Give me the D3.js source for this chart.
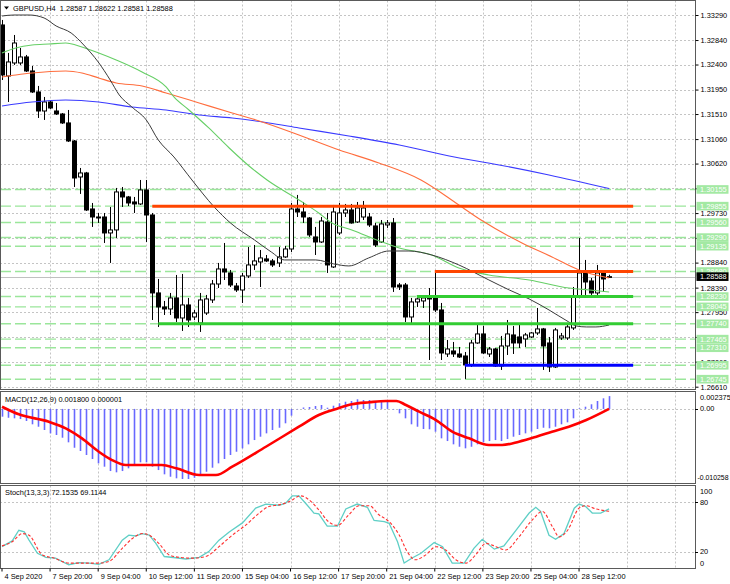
<!DOCTYPE html>
<html><head><meta charset="utf-8">
<script src="https://cdn.jsdelivr.net/npm/d3@7"></script>
<style>
html,body{margin:0;padding:0;background:#fff;}
svg{display:block;font-family:"Liberation Sans",Arial,sans-serif;}
</style></head><body>
<svg id="c" width="730" height="584"></svg>
<script>
// ---------------- DATA ----------------
const symbolTitle = "GBPUSD,H4  1.28587 1.28622 1.28581 1.28588";
const macdTitle = "MACD(12,26,9) 0.001800 0.000001";
const stochTitle = "Stoch(13,3,3) 72.1535 69.1144";

const opens = [1.33111,1.32194,1.32428,1.32428,1.32536,1.32284,1.31907,1.31565,1.31727,1.31565,
1.31511,1.31350,1.31026,1.30379,1.30451,1.29804,1.29660,1.29660,1.29373,1.29427,
1.30110,1.30020,1.29930,1.29894,1.30146,1.29696,1.28295,1.28043,1.28007,1.28205,
1.27845,1.28079,1.27863,1.27755,1.27935,1.28169,1.28456,1.28726,1.28654,1.28420,
1.28348,1.28600,1.28798,1.28852,1.28906,1.28870,1.28834,1.28942,1.29085,1.29804,
1.29750,1.29642,1.29301,1.29211,1.29570,1.28762,1.29373,1.29732,1.29786,1.29570,
1.29660,1.29660,1.29499,1.29211,1.29517,1.29553,1.28438,1.28438,1.27863,1.28133,
1.28151,1.28223,1.28205,1.27989,1.27198,1.27252,1.27198,1.27162,1.27001,1.27396,
1.27558,1.27198,1.27288,1.26983,1.27342,1.27540,1.27504,1.27468,1.27504,1.27576,
1.27648,1.27396,1.26965,1.27486,1.27486,1.27666,1.28223,1.28654,1.28510,1.28295,
1.28654,1.28587];
const highs = [1.33201,1.32608,1.32931,1.32697,1.32572,1.32374,1.32015,1.31817,1.31745,1.31709,
1.31529,1.31583,1.31044,1.30541,1.30470,1.29912,1.29732,1.29732,1.29840,1.30182,
1.30199,1.30038,1.30020,1.30325,1.30325,1.29732,1.28546,1.28151,1.28295,1.28618,
1.28636,1.28205,1.27989,1.28295,1.28259,1.28528,1.28834,1.29193,1.28708,1.28474,
1.28654,1.29121,1.29157,1.29067,1.28977,1.28906,1.29121,1.29139,1.29912,1.30056,
1.29930,1.29660,1.29481,1.29660,1.29732,1.29876,1.29912,1.29894,1.29894,1.29930,
1.29948,1.29732,1.29553,1.29606,1.29606,1.29642,1.28474,1.28474,1.28205,1.28223,
1.28241,1.28384,1.28672,1.28115,1.27450,1.27414,1.27324,1.27234,1.27450,1.27719,
1.27702,1.27324,1.27306,1.27522,1.27809,1.27702,1.27719,1.27576,1.27594,1.28025,
1.27666,1.27504,1.27666,1.27576,1.27719,1.28402,1.29283,1.28888,1.28564,1.28798,
1.28672,1.28622];
const lows = [1.32122,1.31727,1.32392,1.32392,1.32266,1.31889,1.31439,1.31404,1.31601,1.31493,
1.31332,1.31008,1.30199,1.30074,1.29768,1.29481,1.29553,1.29193,1.28834,1.29283,
1.29840,1.29858,1.29732,1.29876,1.29211,1.27809,1.27684,1.27899,1.27899,1.27773,
1.27612,1.27684,1.27809,1.27594,1.27899,1.28115,1.28384,1.28528,1.28402,1.28313,
1.28115,1.28564,1.28708,1.28402,1.28852,1.28762,1.28762,1.28924,1.29031,1.29660,
1.29553,1.29301,1.28977,1.29193,1.28654,1.28744,1.29337,1.29660,1.29540,1.29553,
1.29606,1.29481,1.29121,1.29193,1.29463,1.28313,1.28348,1.27773,1.27755,1.28043,
1.28025,1.27090,1.27953,1.27090,1.27144,1.27144,1.27126,1.26749,1.26965,1.27380,
1.27198,1.27144,1.26965,1.26911,1.27180,1.27198,1.27306,1.27324,1.27486,1.27540,
1.26911,1.26875,1.26947,1.27450,1.27450,1.27630,1.28200,1.28259,1.28259,1.28259,
1.28313,1.28581];
const closes = [1.32212,1.32446,1.32787,1.32536,1.32284,1.31907,1.31565,1.31727,1.31619,1.31511,
1.31350,1.31026,1.30361,1.30451,1.29786,1.29660,1.29642,1.29373,1.29427,1.30110,
1.30020,1.29912,1.29894,1.30146,1.29696,1.28295,1.28043,1.28007,1.28205,1.27845,
1.28079,1.27809,1.27935,1.28169,1.28187,1.28456,1.28726,1.28672,1.28438,1.28348,
1.28600,1.28798,1.28870,1.28924,1.28870,1.28798,1.28942,1.29085,1.29804,1.29750,
1.29660,1.29337,1.29211,1.29588,1.28798,1.29750,1.29732,1.29786,1.29553,1.29822,
1.29822,1.29517,1.29157,1.29535,1.29553,1.28402,1.28402,1.27863,1.28133,1.28187,
1.28205,1.28187,1.27989,1.27216,1.27288,1.27198,1.27144,1.27001,1.27396,1.27558,
1.27216,1.27288,1.26983,1.27342,1.27558,1.27396,1.27396,1.27540,1.27576,1.27648,
1.27342,1.26965,1.27630,1.27522,1.27684,1.28223,1.28654,1.28492,1.28295,1.28654,
1.28546,1.28588];

// moving averages: bar index / price
const maBlackIdx = [0,2,4.5,7,9,11.5,13.6,16,18,19.5,21.6,24,26,28.6,31.6,35.3,38,42,44.8,47,49.4,52.2,55.2,57.7,61,64.4,67.7,71.5,76,81,84.4,87.7,91,94.3,95.5,97.2,98.8,101];
const maBlackVal = [1.33272,1.33290,1.33290,1.33237,1.33093,1.32967,1.32751,1.32446,1.32122,1.31853,1.31637,1.31404,1.31044,1.30739,1.30325,1.29840,1.29553,1.29247,1.29031,1.28888,1.28888,1.28888,1.28816,1.28780,1.28924,1.29049,1.29049,1.28977,1.28798,1.28528,1.28348,1.28187,1.27989,1.27773,1.27702,1.27684,1.27684,1.27719];
const maGreenIdx = [0,2.3,5,7.8,10.6,13.3,16.1,19,23.3,27.3,28.6,31.1,34.4,37.8,41.1,44.1,49.4,52.7,54.9,58.2,63.2,66.1,71.5,76,81,87.7,94.3,97.7,101];
const maGreenVal = [1.32608,1.32697,1.32751,1.32769,1.32787,1.32715,1.32608,1.32482,1.32266,1.31997,1.31817,1.31583,1.31260,1.30900,1.30577,1.30325,1.29966,1.29732,1.29553,1.29427,1.29211,1.29103,1.28977,1.28744,1.28618,1.28528,1.28384,1.28348,1.28313];
const maOrangeIdx = [0,2.3,5,10.6,13.3,16.1,19,23.3,27.3,32.8,38.3,42.8,49.4,56.1,62.7,69.7,76,79.7,86.5,91.5,96,101];
const maOrangeVal = [1.32176,1.32212,1.32248,1.32284,1.32248,1.32158,1.32068,1.32015,1.31889,1.31709,1.31529,1.31386,1.31134,1.30864,1.30631,1.30325,1.29876,1.29606,1.29193,1.28942,1.28708,1.28564];
const maBlueIdx = [0,5,10.6,16.1,21.6,27.3,32.8,38.3,44.4,49.4,57.7,66.1,74.4,82.7,91,101];
const maBlueVal = [1.31655,1.31727,1.31763,1.31727,1.31637,1.31583,1.31493,1.31439,1.31350,1.31260,1.31116,1.30954,1.30757,1.30595,1.30415,1.30170];

// horizontal dashed levels
const hlineLevels = [1.30155,1.29855,1.29560,1.29290,1.29135,1.28680,1.28230,1.28045,1.27740,1.27465,1.27310,1.26995,1.26745];
const currentPrice = 1.28588;
// thick drawn level segments
const segPrice = [1.29855,1.28680,1.28230,1.27740,1.26995];
const segStart = [25,72,69,26,77];
const segEnd   = [105,105,105,105,105];
const segKind  = ["resist","resist","support","support","low"];

// price axis
const mainTicks = [1.33290,1.32840,1.32400,1.31950,1.31510,1.31060,1.30620,1.30175,1.29730,1.29285,1.28840,1.28390,1.27950,1.27505,1.27060,1.26610];
const mainTickLabels = ["1.33290","1.32840","1.32400","1.31950","1.31510","1.31060","1.30620","","1.29730","","1.28840","1.28390","1.27950","","1.27060","1.26610"];

// MACD
const macdHist = [-0.00109,-0.00124,-0.00132,-0.00142,-0.00170,-0.00216,-0.00250,-0.00296,-0.00343,-0.00366,
-0.00404,-0.00469,-0.00545,-0.00591,-0.00647,-0.00703,-0.00764,-0.00811,-0.00872,-0.00890,
-0.00872,-0.00834,-0.00787,-0.00750,-0.00750,-0.00811,-0.00858,-0.00918,-0.00952,-0.00974,
-0.00984,-0.00984,-0.00966,-0.00928,-0.00882,-0.00825,-0.00764,-0.00703,-0.00647,-0.00601,
-0.00553,-0.00497,-0.00437,-0.00390,-0.00343,-0.00296,-0.00264,-0.00202,-0.00095,-0.00005,
0.00020,0.00027,0.00041,0.00055,0.00017,0.00045,0.00079,0.00101,0.00111,0.00135,
0.00125,0.00125,0.00111,0.00111,0.00101,-0.00008,-0.00062,-0.00132,-0.00216,-0.00250,
-0.00282,-0.00286,-0.00320,-0.00413,-0.00451,-0.00497,-0.00531,-0.00553,-0.00531,-0.00497,
-0.00469,-0.00451,-0.00437,-0.00451,-0.00423,-0.00390,-0.00366,-0.00343,-0.00320,-0.00282,
-0.00264,-0.00272,-0.00250,-0.00216,-0.00188,-0.00132,0.00010,0.00031,0.00065,0.00111,
0.00149,0.00180];
const sigIdx = [0,2.8,7.8,10.6,13.3,16.1,18.3,20.6,26.6,29,32.8,35.6,38.3,43.9,49.4,52.7,55.6,58.2,61.1,63.9,65.6,67.2,69.4,72.2,74.9,77.7,81,83.2,86,88.9,91.5,94.3,97.2,101];
const sigVal = [0.00031,-0.00076,-0.00180,-0.00272,-0.00413,-0.00601,-0.00718,-0.00788,-0.00788,-0.00834,-0.00928,-0.00928,-0.00811,-0.00531,-0.00250,-0.00086,-0.00001,0.00065,0.00093,0.00111,0.00111,0.00055,-0.00039,-0.00156,-0.00320,-0.00413,-0.00507,-0.00507,-0.00460,-0.00390,-0.00320,-0.00250,-0.00156,0.000001];
const macdMax = 0.002375, macdMin = -0.010258;
const macdLabels = ["0.002375","0.00","-0.010258"];

// Stochastic
const stochKIdx = [0,1.7,2.8,3.7,4.5,5.9,7.3,8.9,11.1,12.8,14.5,16.1,17.8,20,21.1,22.2,23.3,24.5,25.6,27,28.9,30.6,32.8,34.4,36.1,37.8,40,42.2,43.9,46.1,47.2,48.3,49.4,50.5,51.9,52.7,54.1,55.8,57.2,59.1,60.8,61.9,63.6,64.4,65.8,66.9,68.3,69.7,71.9,73.3,74.9,76.9,78.5,79.9,81.9,83.5,85.5,87.7,88.8,89.6,91,92.1,93.5,95.2,96,97.1,98.2,99.6,101];
const stochKVal = [26,33,46,44,34,18,13,12,4,6.5,6,4.5,10,34,40,39,42,40,30,14,12.5,11,13,20,34,44,55,73,78,76.5,79,88,88,79,67,66,51,51,72,78,74,58,56.5,54.5,32,6,12.5,18,31,26,6,6,24,35,23,27,46,67,74,69,40,35,42,73,78,75,67,67,72.15];
const stochDIdx = [0,1.7,3.4,4.5,6.7,8.7,11.1,13.4,16.1,17.8,20,21.7,23.3,24.5,26.1,27.8,29.5,31.7,33.9,36.1,38.3,40.5,42.8,44.4,46.1,47.8,49.7,51.1,52.7,54.4,55.8,57.7,59.4,61.1,62.7,64.4,66.1,67.4,68.8,70.5,72.2,73.8,75.5,77.2,78.8,80.5,82.2,83.8,86,88.2,89.9,91.6,92.7,94.1,96,97.1,98.8,101];
const stochDVal = [27,32,42,40,16,12,6,6,6,8,24,36,42,40,30,16,13,12,14,26,40,52,67,75,77,81,88,83,71,56,52,65,76,76,65,56.5,40,20,10,16,26,22,10,6,16,30,26,22,38,58.5,69,50,38,46,73,76,72,69.11];
const stochLevels = [80,20];
const stochLabels = [100,80,20,0];

// time axis
const timeTickBars = [0,8,16,24,32,40,48,56,64,72,80,88,96];
const timeTickLabels = ["4 Sep 2020","7 Sep 20:00","9 Sep 04:00","10 Sep 12:00","11 Sep 20:00","15 Sep 04:00","16 Sep 12:00","17 Sep 20:00","21 Sep 04:00","22 Sep 12:00","23 Sep 20:00","25 Sep 04:00","28 Sep 12:00"];
const gridBars = [8,16,24,32,40,48,56,64,72,80,88,96,104,112];

// ---------------- LAYOUT ----------------
const svg = d3.select("#c");
const R = 695;            // right edge of plot panels
const FS = 7.4;
const main = {top:0.5, bottom:389.5};
const macdP = {top:391.5, bottom:483.5};
const stoP = {top:485.5, bottom:568.5};

const x = d3.scaleLinear().domain([0,100]).range([2, 603.1]);
const yMain = d3.scaleLinear().domain([1.26610,1.33290]).range([386.7,15]);
const yMacd = d3.scaleLinear().domain([macdMin,macdMax]).range([482,392]);
const ySto = d3.scaleLinear().domain([0,100]).range([568,486]);

svg.append("rect").attr("width",730).attr("height",584).attr("fill","#fff");

const defs = svg.append("defs");
function clip(id,p){ defs.append("clipPath").attr("id",id).append("rect")
  .attr("x",1).attr("y",p.top+0.5).attr("width",R-1).attr("height",p.bottom-p.top-1); }
clip("cm",main); clip("cmacd",macdP); clip("csto",stoP);

const gMain = svg.append("g").attr("clip-path","url(#cm)");
const gMacd = svg.append("g").attr("clip-path","url(#cmacd)");
const gSto = svg.append("g").attr("clip-path","url(#csto)");

const gridCol = "#c4c4c4";
// vertical grid
[[gMain,main],[gMacd,macdP],[gSto,stoP]].forEach(([g,p])=>{
  g.selectAll(null).data(gridBars).enter().append("line")
   .attr("x1",d=>Math.round(x(d))+0.5).attr("x2",d=>Math.round(x(d))+0.5)
   .attr("y1",p.top).attr("y2",p.bottom)
   .attr("stroke",gridCol).attr("stroke-dasharray","2,2").attr("stroke-width",1);
});
// main horizontal grid
gMain.selectAll(null).data(mainTicks).enter().append("line")
  .attr("x1",0).attr("x2",R).attr("y1",d=>Math.round(yMain(d))+0.5).attr("y2",d=>Math.round(yMain(d))+0.5)
  .attr("stroke",gridCol).attr("stroke-dasharray","2,2");
// macd zero
gMacd.append("line").attr("x1",0).attr("x2",R)
  .attr("y1",Math.round(yMacd(0))+0.5).attr("y2",Math.round(yMacd(0))+0.5)
  .attr("stroke",gridCol).attr("stroke-dasharray","2,2");
// stoch levels
gSto.selectAll(null).data(stochLevels).enter().append("line")
  .attr("x1",0).attr("x2",R).attr("y1",d=>Math.round(ySto(d))+0.5).attr("y2",d=>Math.round(ySto(d))+0.5)
  .attr("stroke",gridCol).attr("stroke-dasharray","2,2");

// dashed light green levels
gMain.selectAll(null).data(hlineLevels).enter().append("line")
  .attr("x1",0).attr("x2",R).attr("y1",d=>yMain(d)).attr("y2",d=>yMain(d))
  .attr("stroke","#9be69b").attr("stroke-width",1.4).attr("stroke-dasharray","11,4");
// current price line
gMain.append("line").attr("x1",0).attr("x2",R)
  .attr("y1",Math.round(yMain(currentPrice))+0.5).attr("y2",Math.round(yMain(currentPrice))+0.5)
  .attr("stroke","#c0c0c0");

// candles
const bars = d3.range(opens.length).map(i=>({i,o:opens[i],h:highs[i],l:lows[i],c:closes[i]}));
const cg = gMain.append("g");
cg.selectAll(null).data(bars).enter().append("line")
  .attr("x1",d=>Math.round(x(d.i))+0.5).attr("x2",d=>Math.round(x(d.i))+0.5)
  .attr("y1",d=>yMain(d.h)).attr("y2",d=>yMain(d.l)).attr("stroke","#000");
cg.selectAll(null).data(bars).enter().append("rect")
  .attr("x",d=>Math.round(x(d.i))-1.5).attr("width",4)
  .attr("y",d=>yMain(Math.max(d.o,d.c)))
  .attr("height",d=>Math.max(0.8,yMain(Math.min(d.o,d.c))-yMain(Math.max(d.o,d.c))))
  .attr("fill",d=>d.c>=d.o?"#fff":"#000").attr("stroke","#000").attr("stroke-width",1);

// moving averages
function maLine(idx,val,color,w){
  const pts = idx.map((d,k)=>[d,val[k]]);
  gMain.append("path").datum(pts)
    .attr("d",d3.line().x(d=>x(d[0])).y(d=>yMain(d[1])).curve(d3.curveMonotoneX))
    .attr("fill","none").attr("stroke",color).attr("stroke-width",w);
}
maLine(maBlueIdx,maBlueVal,"#3a3aff",1.1);
maLine(maOrangeIdx,maOrangeVal,"#ff6d3d",1.1);
maLine(maGreenIdx,maGreenVal,"#66cf66",1.1);
maLine(maBlackIdx,maBlackVal,"#3a3a3a",1);

// thick level segments
const segColor = {resist:"#ff4500",support:"#32cd32",low:"#0000ff"};
gMain.selectAll(null).data(segPrice).enter().append("line")
  .attr("x1",(d,k)=>x(segStart[k])).attr("x2",(d,k)=>x(segEnd[k]))
  .attr("y1",d=>yMain(d)).attr("y2",d=>yMain(d))
  .attr("stroke",(d,k)=>segColor[segKind[k]]).attr("stroke-width",3);

// MACD histogram
gMacd.selectAll(null).data(macdHist).enter().append("line")
  .attr("x1",(d,i)=>Math.round(x(i))+0.5).attr("x2",(d,i)=>Math.round(x(i))+0.5)
  .attr("y1",yMacd(0)).attr("y2",d=>yMacd(d))
  .attr("stroke","#6868ff").attr("stroke-width",1.6);
gMacd.append("path").datum(sigIdx.map((d,k)=>[d,sigVal[k]]))
  .attr("d",d3.line().x(d=>x(d[0])).y(d=>yMacd(d[1])).curve(d3.curveMonotoneX))
  .attr("fill","none").attr("stroke","#ff0000").attr("stroke-width",2.6);

// Stochastic
gSto.append("path").datum(stochKIdx.map((d,k)=>[d,stochKVal[k]]))
  .attr("d",d3.line().x(d=>x(d[0])).y(d=>ySto(d[1])))
  .attr("fill","none").attr("stroke","#5fcfc6").attr("stroke-width",1.3);
gSto.append("path").datum(stochDIdx.map((d,k)=>[d,stochDVal[k]]))
  .attr("d",d3.line().x(d=>x(d[0])).y(d=>ySto(d[1])).curve(d3.curveMonotoneX))
  .attr("fill","none").attr("stroke","#ff3030").attr("stroke-width",1.1).attr("stroke-dasharray","3,2");

// panel frames
[main,macdP,stoP].forEach(p=>{
  svg.append("rect").attr("x",0.5).attr("y",p.top).attr("width",R).attr("height",p.bottom-p.top)
    .attr("fill","none").attr("stroke","#5a5a5a").attr("stroke-width",1);
});

// ---------------- TEXT / AXES ----------------
const tx = svg.append("g").attr("font-size",FS).attr("fill","#000");
// titles
svg.append("path").attr("d","M4,6.5 L9,6.5 L6.5,9.5 Z").attr("fill","#000");
tx.append("text").attr("x",13).attr("y",11).text(symbolTitle).style("white-space","pre");
tx.append("text").attr("x",5).attr("y",macdP.top+10).text(macdTitle);
tx.append("text").attr("x",5).attr("y",stoP.top+9.5).text(stochTitle);

// main price axis
const axMain = d3.axisRight(yMain).tickValues(mainTicks).tickSize(3)
  .tickFormat((d,k)=>mainTickLabels[k]);
const ga = svg.append("g").attr("transform",`translate(${R+0.5},0)`).call(axMain);
ga.select(".domain").remove();
ga.selectAll("text").attr("x",5).attr("font-size",FS).attr("font-family","Liberation Sans, Arial, sans-serif").attr("fill","#000");
ga.selectAll("line").attr("stroke","#000");

// green level labels
const lab = svg.append("g");
lab.selectAll(null).data(hlineLevels).enter().append("rect")
  .attr("x",R+1.5).attr("width",32).attr("y",d=>yMain(d)-4.3).attr("height",8.6)
  .attr("fill","#a3e9a3");
lab.selectAll(null).data(hlineLevels).enter().append("text")
  .attr("x",R+5).attr("y",d=>yMain(d)).attr("dy","0.34em")
  .attr("font-size",FS).attr("fill","#ffffff").text(d=>d.toFixed(5));
// current price label
lab.append("rect").attr("x",R+1.5).attr("width",32).attr("y",yMain(currentPrice)-4.3).attr("height",8.6).attr("fill","#000");
lab.append("text").attr("x",R+5).attr("y",yMain(currentPrice)).attr("dy","0.34em")
  .attr("font-size",FS).attr("fill","#fff").text(currentPrice.toFixed(5));

// macd axis labels
const macdLabY = [yMacd(macdMax)+5, yMacd(0), yMacd(macdMin)-4];
tx.selectAll(null).data(macdLabels).enter().append("text")
  .attr("x",(d,k)=>k===2?R+2.5:R+5).attr("y",(d,k)=>macdLabY[k]).attr("dy","0.34em")
  .attr("font-size",(d,k)=>k===2?6.9:FS).text(d=>d);
// stoch axis labels
tx.selectAll(null).data(stochLabels).enter().append("text")
  .attr("x",R+5).attr("y",d=>d===100?ySto(d)+5:(d===0?ySto(d)-5:ySto(d))).attr("dy","0.34em").text(d=>d);
// right ticks for macd/stoch
svg.selectAll(null).data(stochLevels).enter().append("line")
  .attr("x1",R).attr("x2",R+3).attr("y1",d=>Math.round(ySto(d))+0.5).attr("y2",d=>Math.round(ySto(d))+0.5).attr("stroke","#000");
svg.append("line").attr("x1",R).attr("x2",R+3).attr("y1",Math.round(yMacd(0))+0.5).attr("y2",Math.round(yMacd(0))+0.5).attr("stroke","#000");

// time axis
const axT = d3.axisBottom(x).tickValues(timeTickBars).tickSize(3).tickFormat((d,k)=>timeTickLabels[k]);
const gt = svg.append("g").attr("transform",`translate(0,${stoP.bottom})`).call(axT);
gt.select(".domain").remove();
gt.selectAll(".tick line").attr("stroke","#000").attr("transform","translate(-0.5,0)");
gt.selectAll("text").attr("text-anchor","start").attr("x",2).attr("y",5).attr("dy","0.71em")
  .attr("font-size",FS).attr("font-family","Liberation Sans, Arial, sans-serif").attr("fill","#000");
</script>
</body></html>
